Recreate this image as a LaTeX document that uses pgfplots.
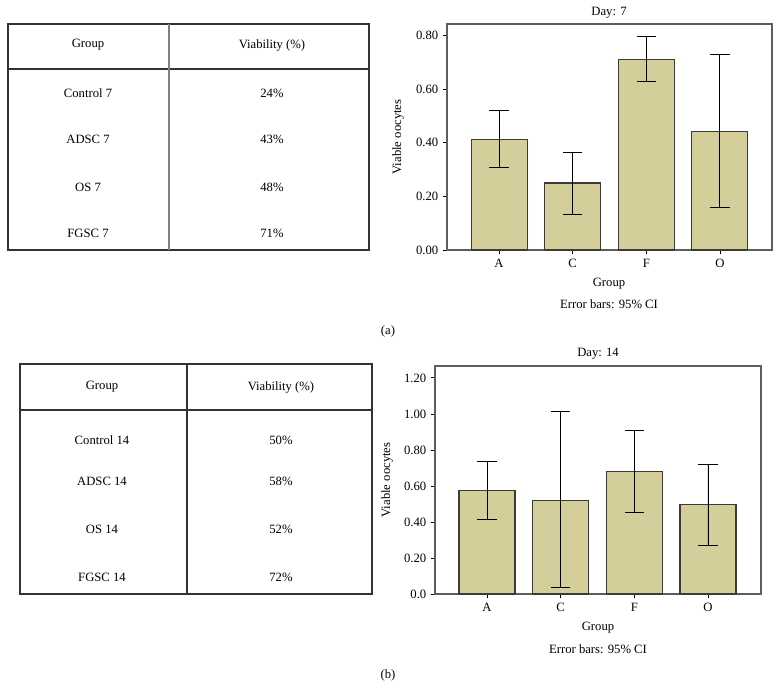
\documentclass[border=0pt]{standalone}
\usepackage{pgfplots}
\pgfplotsset{compat=1.18}
\usepackage{pgfplotstable}
\usepackage{fontspec}
\setmainfont{Liberation Serif}

\definecolor{barfill}{HTML}{D4CF9A}
\definecolor{baredge}{HTML}{3C3C32}
\definecolor{boxgrey}{HTML}{5E5E5E}
\definecolor{linegrey}{HTML}{333333}

% x  mean  err+  err-
\pgfplotstableread{
x y ep em
0 0.413 0.108 0.104
1 0.250 0.113 0.116
2 0.711 0.086 0.082
3 0.441 0.288 0.283
}\daySeven
\pgfplotstableread{
x y ep em
0 0.576 0.161 0.161
1 0.520 0.495 0.481
2 0.681 0.228 0.227
3 0.496 0.224 0.229
}\dayFourteen

\pgfplotsset{
  barax/.style={
    scale only axis, anchor=south west,
    xtick={0,1,2,3}, xticklabels={A,C,F,O},
    ymin=0,
    axis line style={draw=boxgrey, line width=0.8pt},
    tick style={draw=black, line width=0.6pt},
    tick align=outside, xtick pos=left, ytick pos=left,
    major tick length=3pt,
    /pgf/number format/assume math mode=true,
    ybar, bar width=42pt,
  },
  barplot/.style={
    fill=barfill, draw=baredge, line width=0.8pt,
    error bars/.cd, y dir=both, y explicit,
    error bar style={black, line width=0.7pt},
    error mark options={rotate=90, mark size=7.2pt, black, line width=0.7pt},
  },
}

\begin{document}
\begin{tikzpicture}[x=0.75pt, y=-0.75pt, font=\fontsize{9.5}{11}\selectfont]
\path[use as bounding box] (0,0) rectangle (781,689);

% ---- table (a)
\draw[linegrey, line width=0.8pt] (8,24) rectangle (369,250);
\draw[linegrey, line width=0.8pt] (8,69) -- (369,69);
\draw[gray, line width=1.1pt] (169,24) -- (169,250);
\node at (88,45) {Group};
\node at (272,45) {Viability (\%)};
\node at (88,93) {Control 7};   \node at (272,93) {24\%};
\node at (88,139) {ADSC 7};     \node at (272,139) {43\%};
\node at (88,187) {OS 7};       \node at (272,187) {48\%};
\node at (88,233) {FGSC 7};     \node at (272,233) {71\%};

% ---- table (b)
\draw[linegrey, line width=0.8pt] (20,364) rectangle (372,594);
\draw[linegrey, line width=0.8pt] (20,410) -- (372,410);
\draw[linegrey, line width=0.8pt] (187,364) -- (187,594);
\node at (102,387) {Group};
\node at (281,387) {Viability (\%)};
\node at (102,440) {Control 14}; \node at (281,440) {50\%};
\node at (102,481) {ADSC 14};    \node at (281,481) {58\%};
\node at (102,529) {OS 14};      \node at (281,529) {52\%};
\node at (102,577) {FGSC 14};    \node at (281,577) {72\%};

\coordinate (p1) at (447,250);
\coordinate (p2) at (435,594);

% ---- chart (a)
\begin{axis}[barax, at={(p1)},
    width=243.75pt, height=169.5pt,
    xmin=-0.707, xmax=3.707, ymax=0.843,
    ytick={0,0.2,0.4,0.6,0.8},
    yticklabels={0.00,0.20,0.40,0.60,0.80}]
  \addplot[barplot] table[x=x, y=y, y error plus=ep, y error minus=em] {\daySeven};
\end{axis}
\node at (609,13) {Day: 7};
\node[rotate=90] at (398,137) {Viable oocytes};
\node at (609,284) {Group};
\node at (609,304) {Error bars: 95\% CI};
\node at (388,331) {(a)};

% ---- chart (b)
\begin{axis}[barax, at={(p2)},
    width=244.5pt, height=171pt,
    xmin=-0.706, xmax=3.72, ymax=1.266,
    ytick={0,0.2,0.4,0.6,0.8,1.0,1.2},
    yticklabels={0.0,0.20,0.40,0.60,0.80,1.00,1.20}]
  \addplot[barplot] table[x=x, y=y, y error plus=ep, y error minus=em] {\dayFourteen};
\end{axis}
\node at (598,354) {Day: 14};
\node[rotate=90] at (387,480) {Viable oocytes};
\node at (598,628) {Group};
\node at (598,649) {Error bars: 95\% CI};
\node at (388,675) {(b)};
\end{tikzpicture}
\end{document}
